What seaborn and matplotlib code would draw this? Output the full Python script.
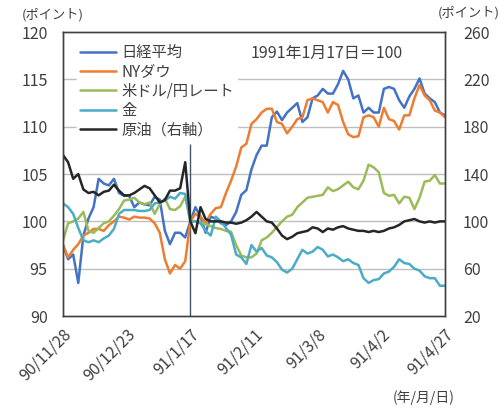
import pandas as pd
import numpy as np
import matplotlib
matplotlib.use("Agg")
import matplotlib.pyplot as plt
import seaborn as sns

# every second day from 90/11/28 to 91/4/27
dates = pd.date_range("1990-11-28", "1991-04-27", freq="2D")

nikkei = [97.5, 96.0, 96.5, 93.5, 98.5, 100.3, 101.5, 104.5, 104.0, 103.8,
          104.5, 103.0, 102.7, 102.7, 101.5, 102.0, 101.8, 101.7, 102.6, 102.3,
          99.0, 97.6, 98.8, 98.8, 98.3, 100.0, 101.5, 100.5, 98.8, 100.5,
          100.3, 99.8, 99.6, 100.0, 101.0, 102.8, 103.3, 105.5, 107.0, 108.0,
          108.0, 111.0, 111.6, 110.7, 111.5, 112.0, 112.5, 110.5, 111.0, 113.0,
          113.3, 114.0, 113.5, 113.5, 114.5, 115.9, 115.0, 113.0, 113.3, 111.5,
          112.0, 111.5, 111.5, 114.0, 114.2, 114.0, 112.8, 112.0, 113.2, 114.0,
          115.1, 113.5, 113.0, 112.6, 111.5, 111.2]
nydow = [97.5, 96.2, 97.0, 97.6, 98.5, 98.8, 99.2, 99.2, 99.0, 99.6,
         100.0, 100.5, 100.4, 100.2, 100.5, 100.4, 100.4, 100.3, 99.8, 98.8,
         96.0, 94.5, 95.4, 95.0, 95.8, 100.0, 100.8, 100.5, 99.8, 100.8,
         101.4, 101.5, 103.0, 104.3, 105.8, 107.8, 108.2, 110.3, 110.8, 111.5,
         111.9, 111.9, 110.5, 110.3, 109.3, 110.0, 110.8, 111.0, 112.8, 113.0,
         112.8, 112.6, 111.5, 112.6, 112.3, 110.5, 109.2, 108.9, 109.0, 111.0,
         111.2, 111.0, 110.0, 112.0, 110.8, 110.6, 109.7, 111.2, 111.2, 113.0,
         114.4, 113.3, 112.8, 111.7, 111.5, 111.0]
usdjpy = [98.0, 99.8, 100.0, 100.3, 101.0, 99.0, 98.8, 99.3, 99.8, 100.0,
          100.6, 101.3, 102.2, 102.3, 102.5, 102.0, 101.8, 102.0, 100.8, 101.8,
          102.4, 101.3, 101.2, 101.6, 102.6, 100.0, 100.0, 99.9, 99.7, 99.5,
          99.3, 99.2, 99.0, 98.9, 97.5, 96.4, 96.2, 96.2, 96.6, 98.0,
          98.3, 98.8, 99.4, 100.0, 100.5, 100.7, 101.5, 102.0, 102.5, 102.6,
          102.7, 102.8, 103.6, 103.2, 103.4, 103.8, 104.2, 103.6, 103.4, 104.3,
          106.0, 105.7, 105.2, 103.0, 102.7, 102.8, 101.9, 102.6, 102.5, 101.3,
          102.5, 104.2, 104.3, 104.9, 104.0, 104.0]
gold = [101.9, 101.5, 100.8, 99.3, 98.0, 97.8, 98.0, 97.8, 98.2, 98.5,
        99.2, 100.8, 101.2, 101.2, 101.2, 101.1, 101.1, 101.2, 101.9, 102.0,
        102.2, 102.6, 102.4, 103.0, 102.9, 100.0, 100.0, 99.8, 99.0, 98.5,
        100.5, 100.0, 99.3, 98.6, 96.5, 96.2, 95.5, 97.5, 96.8, 97.2,
        96.4, 96.2, 95.7, 94.9, 94.6, 95.0, 96.0, 97.0, 96.6, 96.8,
        97.3, 97.0, 96.3, 96.5, 96.2, 95.8, 96.0, 95.6, 95.4, 94.0,
        93.5, 93.8, 93.9, 94.5, 94.7, 95.2, 96.0, 95.6, 95.5, 95.0,
        94.8, 94.2, 94.0, 94.0, 93.2, 93.2]
oil = [156, 150, 136, 140, 127, 124, 125, 122, 125, 126,
       131, 126, 122, 122, 124, 127, 130, 128, 122, 116,
       118, 126, 126, 128, 150, 100, 90, 112, 102, 100,
       100, 100, 99, 99, 98, 99, 101, 104, 108, 104,
       100, 99, 94, 88, 85, 87, 90, 91, 92, 95,
       94, 91, 94, 93, 95, 96, 94, 93, 92, 92,
       91, 92, 91, 92, 94, 95, 97, 100, 101, 102,
       100, 99, 100, 99, 100, 100]

names = ["日経平均", "NYダウ", "米ドル/円レート", "金", "原油（右軸）"]
colors = ["#4472C4", "#ED7D31", "#9BBB59", "#4BACC6", "#262626"]
tick_dates = ["1990-11-28", "1990-12-23", "1991-01-17", "1991-02-11",
              "1991-03-08", "1991-04-02", "1991-04-27"]
tick_labels = ["90/11/28", "90/12/23", "91/1/17", "91/2/11",
               "91/3/8", "91/4/2", "91/4/27"]

sns.set_style("white")
plt.rcParams["font.family"] = ["Noto Sans CJK JP", "DejaVu Sans"]

fig = plt.figure(figsize=(5, 4.11), dpi=100)
ax = fig.add_axes([0.126, 0.231, 0.764, 0.691])
ax2 = ax.twinx()

for vals, name, c in zip([nikkei, nydow, usdjpy, gold], names[:4], colors[:4]):
    sns.lineplot(x=dates, y=vals, ax=ax, color=c, linewidth=1.8, label=name, legend=False)
sns.lineplot(x=dates, y=oil, ax=ax2, color=colors[4], linewidth=1.8, label=names[4], legend=False)

ax.vlines(pd.Timestamp("1991-01-17"), 90, 108.2, color="#44546A", linewidth=1, zorder=1)

ax.set_ylim(90, 120)
ax.set_yticks(np.arange(90, 121, 5))
ax2.set_ylim(20, 260)
ax2.set_yticks(np.arange(20, 261, 40))
ax.set_xlim(pd.Timestamp("1990-11-28"), pd.Timestamp("1991-04-27"))
ax.set_xticks(pd.to_datetime(tick_dates))
ax.set_xticklabels(tick_labels, rotation=45, ha="right", rotation_mode="anchor")

for y in range(95, 120, 5):
    ax.axhline(y, color="#BFBFBF", linewidth=1, zorder=0)

ax.tick_params(axis="y", length=0, labelsize=11.5, pad=11, colors="#404040")
ax2.tick_params(axis="y", length=0, labelsize=11.5, pad=13, colors="#404040")
ax.tick_params(axis="x", direction="in", length=4, width=1, color="#404040",
               labelsize=11.5, pad=7, labelcolor="#404040")
ax.set_xlabel("")
ax.set_ylabel("")
ax2.set_ylabel("")
for a in (ax, ax2):
    for s in a.spines.values():
        s.set_color("#404040")
        s.set_linewidth(1)

h1, l1 = ax.get_legend_handles_labels()
h2, l2 = ax2.get_legend_handles_labels()
leg = ax2.legend(h1 + h2, l1 + l2, loc="upper left", bbox_to_anchor=(0.036, 0.968),
                 frameon=True, fancybox=False, edgecolor="white", framealpha=1,
                 fontsize=11, handlelength=2.4, handletextpad=0.3,
                 labelspacing=0.15, borderpad=0.2, borderaxespad=0)
for t in leg.get_texts():
    t.set_color("#404040")

fig.text(0.044, 1 - 15 / 411, "(ポイント)", fontsize=9.5, color="#404040", va="center")
fig.text(0.876, 1 - 13 / 411, "(ポイント)", fontsize=9.5, color="#404040", va="center")
fig.text(0.654, 1 - 53 / 411, "1991年1月17日＝100", fontsize=11.5, color="#404040",
         ha="center", va="center")
fig.text(0.847, 1 - 398 / 411, "(年/月/日)", fontsize=10, color="#404040",
         ha="center", va="center")

fig.savefig("out.png", dpi=100)
